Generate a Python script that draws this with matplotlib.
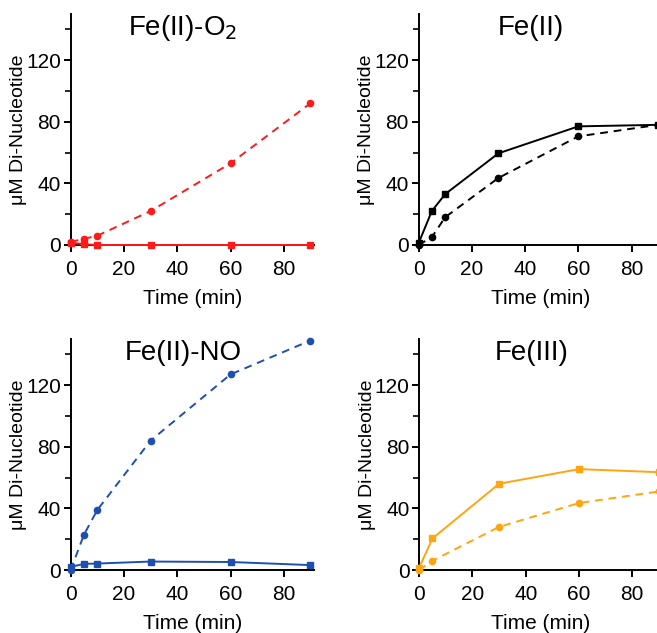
import matplotlib
matplotlib.use("Agg")
import matplotlib.pyplot as plt

plt.rcParams['font.family'] = ['Liberation Sans', 'DejaVu Sans']

# time points (min)
t_all = [0, 5, 10, 30, 60, 90]
t_fe3 = [0, 5, 30, 60, 90]

# Fe(II)-O2 (red)
o2_solid = [1.5, 0.5, 0, 0, 0, 0]
o2_dash = [2, 4, 6, 22, 53, 92]

# Fe(II) (black)
fe2_solid = [1, 22, 33, 59.5, 77, 78]
fe2_dash = [0, 5, 18, 43.5, 70.5, 78]

# Fe(II)-NO (blue)
no_solid = [2, 4, 4.2, 5.5, 5.2, 3.2]
no_dash = [0, 23, 39, 84, 127, 149]

# Fe(III) (orange)
fe3_solid = [1.5, 20.5, 56, 65.5, 63.5]
fe3_dash = [0, 6, 28, 43.5, 51]

panels = [
    ("Fe(II)-O$_2$", "#ff1a1a", t_all, o2_solid, o2_dash, [0.1076, 0.613]),
    ("Fe(II)", "black", t_all, fe2_solid, fe2_dash, [0.637, 0.613]),
    ("Fe(II)-NO", "#1f4fae", t_all, no_solid, no_dash, [0.1076, 0.0995]),
    ("Fe(III)", "#ffa510", t_fe3, fe3_solid, fe3_dash, [0.638, 0.0995]),
]

fig = plt.figure(figsize=(6.57, 6.33), dpi=100)
W, H = 0.371, 0.365

for title, col, t, solid, dash, (x0, y0) in panels:
    ax = fig.add_axes([x0, y0, W, H])
    ax.plot(t, solid, '-', color=col, lw=1.4, marker='s', ms=4.5, clip_on=False, zorder=3)
    ax.plot(t, dash, '--', color=col, lw=1.4, marker='o', ms=4.5, dashes=(4, 3),
            clip_on=False, zorder=3)
    ax.set_xlim(0, 91.5)
    ax.set_ylim(0, 150)
    ax.set_xticks([0, 20, 40, 60, 80])
    ax.set_yticks([0, 40, 80, 120])
    ax.set_yticks([20, 60, 100, 140], minor=True)
    ax.spines['top'].set_visible(False)
    ax.spines['right'].set_visible(False)
    for s in ['left', 'bottom']:
        ax.spines[s].set_linewidth(1.4)
    ax.tick_params(which='major', length=5, width=1.4, labelsize=15, pad=2)
    ax.tick_params(axis='x', which='major', pad=6)
    ax.tick_params(which='minor', length=4, width=1.2)
    ax.set_xlabel("Time (min)", fontsize=15, labelpad=7)
    ax.set_ylabel("μM Di-Nucleotide", fontsize=14)
    ax.yaxis.set_label_coords(-0.178, 0.5)
    ax.text(0.46, 0.94, title, transform=ax.transAxes, ha='center', va='center',
            fontsize=20)

fig.savefig("out.png", dpi=100)
